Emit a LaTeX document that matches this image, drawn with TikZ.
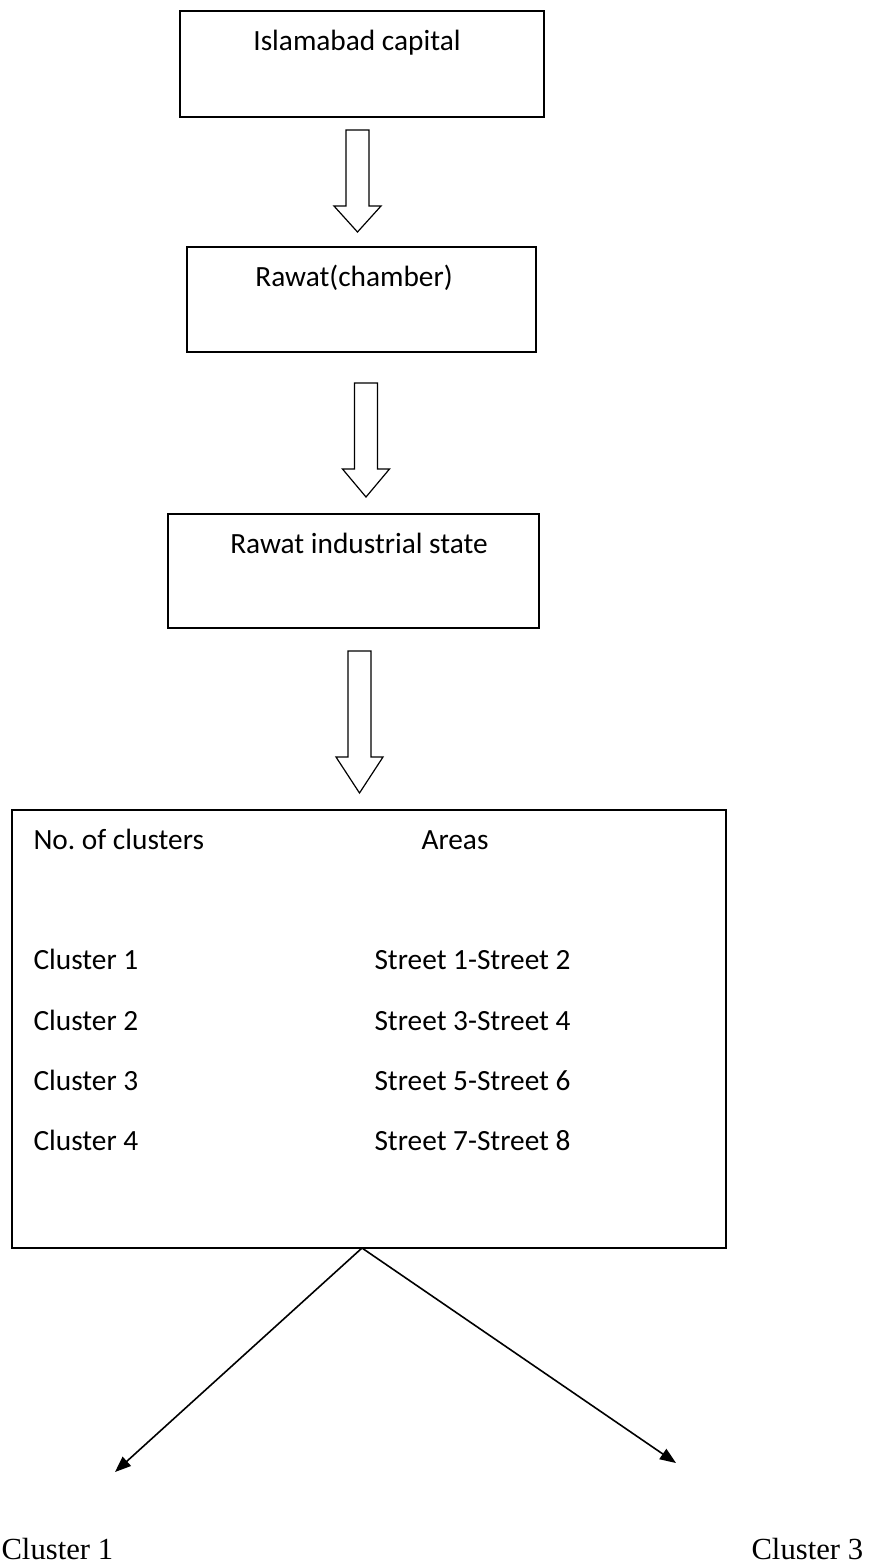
\documentclass[tikz,border=0pt]{standalone}
\usepackage{fontspec}
\setmainfont{Carlito}
\newfontfamily\timesfont{Liberation Serif}
\usetikzlibrary{arrows.meta,fit}

\begin{document}
\begin{tikzpicture}[x=0.375pt,y=-0.375pt,>={Triangle[length=6pt,width=4.6pt]},
    box/.style={draw=black,line width=0.6pt,rectangle,inner sep=0pt},
    title/.style={font=\fontsize{11}{13}\selectfont,inner sep=0pt,anchor=base},
    txt/.style={font=\fontsize{11}{13}\selectfont,inner sep=0pt,anchor=base west},
    endlabel/.style={font=\timesfont\fontsize{11.5}{14}\selectfont,inner sep=0pt,anchor=base west},
    blockarrow/.style={draw=black,line width=0.45pt,line join=miter}]
    \useasboundingbox (0,0) rectangle (869,1566);
    % boxes
    \node[box,fit={(180,11)(544,117)}](capital){};
    \node[box,fit={(187,247)(536,352)}](chamber){};
    \node[box,fit={(168,514)(539,628)}](estate){};
    \node[box,fit={(12,810)(726,1248)}](clusters){};
    \node[title](capitaltext)at(357,50){Islamabad capital};
    \node[title](chambertext)at(354,286){Rawat(chamber)};
    \node[title](estatetext)at(359,553){Rawat industrial state};
    % hollow arrows
    \foreach \x/\ya/\yb/\yc in {357.5/130/206/232, 366/383/469/497, 359.5/651/757/793}
        \draw[blockarrow](\x-11.5,\ya) -- (\x+11.5,\ya) -- (\x+11.5,\yb) -- (\x+23.5,\yb)
            -- (\x,\yc) -- (\x-23.5,\yb) -- (\x-11.5,\yb) -- cycle;
    % table
    \node[txt](clusterhead)at(33,849){No.\ of clusters};
    \node[txt](areahead)at(421,849){Areas};
    \foreach \n/\a/\b/\y in {1/1/2/969, 2/3/4/1030, 3/5/6/1090, 4/7/8/1150}{
        \node[txt](cluster\n)at(33,\y){Cluster \n};
        \node[txt](street\n)at(374,\y){Street \a-Street \b};
    }
    % split
    \coordinate(split)at(362,1248);
    \coordinate(lefttip)at(115,1472);
    \coordinate(righttip)at(676,1463);
    \path[->,line width=0.6pt](split) edge (lefttip)
        (split) edge (righttip);
    \node[endlabel](leftcluster)at(1,1559){Cluster 1};
    \node[endlabel](rightcluster)at(751,1559){Cluster 3};
\end{tikzpicture}
\end{document}
